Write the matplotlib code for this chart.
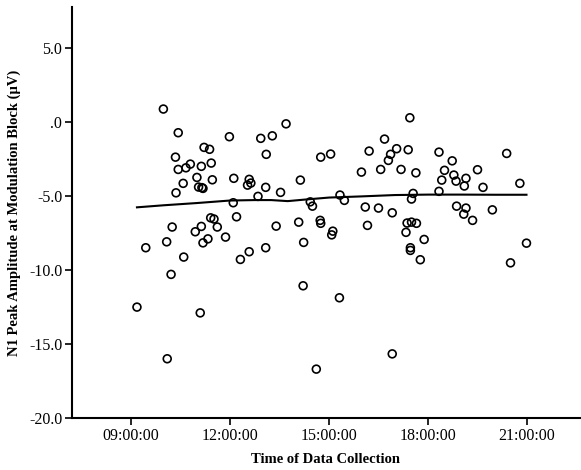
#!/usr/bin/env python3
"""
Scatter of N1 peak amplitude against time of data collection, with fit line.
"""

import matplotlib
matplotlib.use('Agg')
import matplotlib.pyplot as plt
from matplotlib.ticker import FuncFormatter

# Data (time of day, amplitude in uV)
times = [
    '09:59', '10:26', '11:59', '12:56', '11:13', '11:23', '10:21', '10:48',
    '10:40', '10:26', '11:08', '11:26', '11:00', '11:28', '12:07', '12:35',
    '12:38', '12:32', '10:35', '11:03', '11:11', '11:09', '10:22', '12:51',
    '12:06', '12:12', '11:25', '11:31', '10:15', '11:08', '11:37', '10:57',
    '13:06', '13:05', '13:42', '13:17', '14:45', '15:03', '16:41', '16:13',
    '17:03', '16:52', '16:48', '15:59', '16:34', '17:11', '14:08', '13:32',
    '15:20', '15:28', '14:26', '14:30', '16:06', '16:30', '16:55', '14:05',
    '14:44', '14:45', '13:24', '16:10', '15:07', '15:05', '17:27', '17:24',
    '17:38', '18:20', '18:44', '20:23', '18:30', '18:47', '19:30', '19:09',
    '18:25', '18:51', '19:06', '19:40', '20:47', '18:20', '17:33', '17:30',
    '18:52', '19:09', '19:05', '19:57', '19:21', '17:22', '17:30', '17:39',
    '17:20', '10:05', '09:27', '11:11', '11:20', '11:52', '10:36', '12:19',
    '12:35', '10:13', '09:11', '11:06', '10:06', '13:05', '14:14', '14:13',
    '15:19', '16:55', '14:37', '17:53', '17:28', '17:28', '17:46', '20:59',
    '20:30',
]
amplitude = [
    0.86, -0.74, -1.01, -1.12, -1.73, -1.86, -2.39, -2.86,
    -3.11, -3.22, -3.01, -2.79, -3.76, -3.92, -3.82, -3.89,
    -4.14, -4.28, -4.16, -4.41, -4.50, -4.45, -4.80, -5.04,
    -5.47, -6.42, -6.49, -6.57, -7.11, -7.07, -7.11, -7.43,
    -2.20, -4.43, -0.14, -0.95, -2.39, -2.18, -1.17, -1.98,
    -1.82, -2.20, -2.61, -3.40, -3.22, -3.22, -3.94, -4.77,
    -4.95, -5.31, -5.41, -5.70, -5.76, -5.83, -6.15, -6.78,
    -6.66, -6.86, -7.05, -7.00, -7.39, -7.64, 0.27, -1.89,
    -3.45, -2.05, -2.64, -2.14, -3.28, -3.60, -3.24, -3.82,
    -3.94, -4.01, -4.34, -4.43, -4.16, -4.70, -4.84, -5.22,
    -5.70, -5.83, -6.24, -5.95, -6.66, -6.84, -6.78, -6.86,
    -7.47, -8.11, -8.51, -8.18, -7.91, -7.79, -9.14, -9.30,
    -8.78, -10.31, -12.52, -12.91, -16.01, -8.51, -8.15, -11.08,
    -11.89, -15.68, -16.71, -7.95, -8.51, -8.69, -9.32, -8.20,
    -9.53,
]

# Fit line (loess)
fit_times = ['09:11', '10:00', '11:00', '12:00', '12:45', '13:15', '13:45',
             '14:15', '15:00', '16:00', '17:00', '18:00', '19:00', '20:00',
             '20:59']
fit_values = [-5.78, -5.64, -5.49, -5.32, -5.29, -5.29, -5.36,
              -5.26, -5.12, -5.04, -4.95, -4.92, -4.92, -4.93,
              -4.93]

x_ticks = ['09:00', '12:00', '15:00', '18:00', '21:00']
y_ticks = [-20, -15, -10, -5, 0, 5]


def to_hours(t):
    h, m = t.split(':')
    return int(h) + int(m) / 60.0


def y_fmt(v, pos):
    s = f'{v:.1f}'
    return s.replace('0.0', '.0') if abs(v) < 1e-9 else s


def main():
    plt.rcParams['font.family'] = ['Liberation Serif', 'DejaVu Serif']

    fig = plt.figure(figsize=(5.81, 4.70), dpi=100)
    ax = fig.add_axes([0.124, 0.111, 0.874, 0.874])

    xs = [to_hours(t) for t in times]
    ax.scatter(xs, amplitude, s=32, facecolors='none', edgecolors='black',
               linewidths=1.2, zorder=3)
    ax.plot([to_hours(t) for t in fit_times], fit_values, color='black',
            linewidth=1.5, zorder=2)

    ax.set_xlim(to_hours('07:13'), 22.60)
    ax.set_ylim(-20, 7.75)

    ax.set_xticks([to_hours(t) for t in x_ticks])
    ax.set_xticklabels([t + ':00' for t in x_ticks])
    ax.set_yticks(y_ticks)
    ax.yaxis.set_major_formatter(FuncFormatter(y_fmt))

    ax.tick_params(axis='both', direction='out', length=5, width=1.2,
                   labelsize=11.5, colors='black', pad=2)
    for side in ['top', 'right']:
        ax.spines[side].set_visible(False)
    for side in ['left', 'bottom']:
        ax.spines[side].set_linewidth(1.5)

    ax.set_xlabel('Time of Data Collection', fontsize=10.5, fontweight='bold',
                  labelpad=7)
    ax.set_ylabel('N1 Peak Amplitude at Modulation Block (\u03bcV)',
                  fontsize=10.5, fontweight='bold', labelpad=6)

    fig.savefig('out.png', dpi=100, facecolor='white')


if __name__ == '__main__':
    main()
